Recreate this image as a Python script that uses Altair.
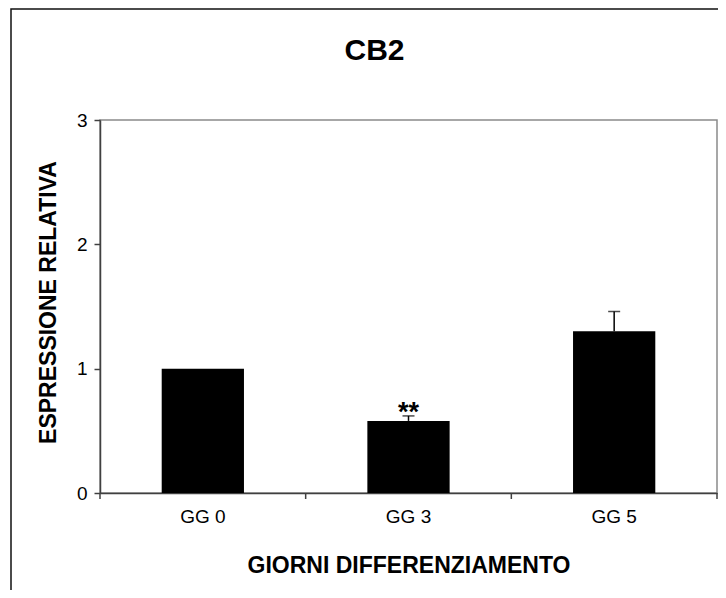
import altair as alt
import pandas as pd

# ---- data ----
categories = ["GG 0", "GG 3", "GG 5"]
values = [1.00, 0.58, 1.30]
errors = [0.00, 0.04, 0.16]
significance = ["", "**", ""]
y_ticks = [0, 1, 2, 3]

df = pd.DataFrame({
    "giorno": categories,
    "valore": values,
    "errore": errors,
    "sig": significance,
})
df["top"] = df["valore"] + df["errore"]

W, H = 617, 373
FONT = "Liberation Sans"
AXIS_COL = "#404040"
XT = "GIORNI DIFFERENZIAMENTO"
YT = "ESPRESSIONE RELATIVA"

xscale = alt.Scale(domain=categories, paddingInner=0, paddingOuter=0)
yscale = alt.Scale(domain=[0, 3], nice=False, zero=True)

x_axis = alt.Axis(
    labelAngle=0, ticks=False, domainColor=AXIS_COL, domainWidth=1.5,
    labelFont=FONT, labelFontSize=19, labelColor="#000", labelPadding=14,
    titleFont=FONT, titleFontSize=23, titleFontWeight="bold", titleColor="#000",
    titleY=79, titleBaseline="alphabetic",
)
y_axis = alt.Axis(
    values=y_ticks, grid=False, format="d",
    tickSize=6, tickColor=AXIS_COL, tickWidth=1.5,
    domainColor=AXIS_COL, domainWidth=1.5,
    labelFont=FONT, labelFontSize=19, labelColor="#000", labelPadding=7,
    titleFont=FONT, titleFontSize=23, titleFontWeight="bold", titleColor="#000",
    titleX=-45, titleY=182, titleBaseline="alphabetic", titleAngle=270,
)

base = alt.Chart(df)

bars = base.mark_bar(color="black", width=alt.RelativeBandSize(0.4)).encode(
    x=alt.X("giorno:N", scale=xscale, sort=categories, axis=x_axis, title=XT),
    y=alt.Y("valore:Q", scale=yscale, axis=y_axis, title=YT),
)

with_err = base.transform_filter("datum.errore > 0")

err_rule = with_err.mark_rule(color="black", strokeWidth=1.5).encode(
    x=alt.X("giorno:N", title=XT),
    y=alt.Y("valore:Q", title=YT),
    y2="top:Q",
)
caps = with_err.mark_tick(color="black", thickness=1.5, size=12, orient="horizontal").encode(
    x=alt.X("giorno:N", title=XT),
    y=alt.Y("top:Q", title=YT),
)
stars = base.transform_filter("datum.sig != ''").mark_text(
    font=FONT, fontSize=27, fontWeight="bold", baseline="alphabetic", dy=5, color="black"
).encode(
    x=alt.X("giorno:N", title=XT),
    y=alt.Y("top:Q", title=YT),
    text="sig:N",
)

# category-boundary ticks on the x axis (Excel style)
tick_left = base.mark_rule(color=AXIS_COL, strokeWidth=1.5).encode(
    x=alt.X("giorno:N", bandPosition=0, title=XT),
    y=alt.value(H), y2=alt.value(H + 6),
)
tick_right = base.transform_filter(
    alt.FieldEqualPredicate(field="giorno", equal=categories[-1])
).mark_rule(color=AXIS_COL, strokeWidth=1.5).encode(
    x=alt.X("giorno:N", bandPosition=1, title=XT),
    y=alt.value(H), y2=alt.value(H + 6),
)

# outer chart-area frame (only its top and left edges are inside the picture)
frame = alt.Chart(alt.Data(values=[{"a": 1}])).mark_rect(
    filled=False, color="#111111", strokeWidth=1.5
).encode(
    x=alt.value(-89), x2=alt.value(W + 300),
    y=alt.value(-111), y2=alt.value(H + 300),
)

chart = alt.layer(frame, bars, err_rule, caps, stars, tick_left, tick_right).properties(
    width=W, height=H,
    title=alt.TitleParams(
        "CB2", font=FONT, fontSize=30, fontWeight="bold", color="#000",
        anchor="middle", frame="group", baseline="alphabetic",
        offset=0, dy=82, dx=-34,
    ),
    autosize=alt.AutoSizeParams(type="none"),
    padding={"left": 92, "top": 112, "right": 1, "bottom": 97},
    background="white",
).configure_view(
    stroke="#8a8a8a", strokeWidth=1.5
)

chart.save("out.html", embed_options={"renderer": "svg", "actions": False})
